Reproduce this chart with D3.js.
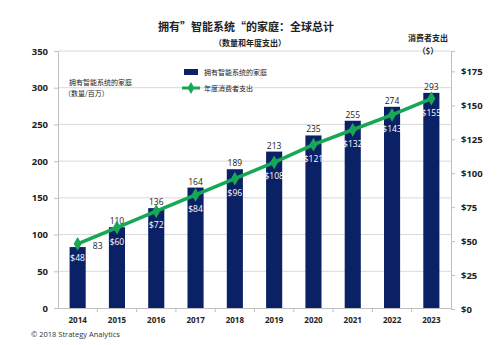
<!DOCTYPE html>
<html><head><meta charset="utf-8">
<script src="https://cdn.jsdelivr.net/npm/d3@7"></script>
<style>
body{margin:0;background:#fff;}
text{font-family:"Open Sans","Noto Sans CJK SC",sans-serif;}
.cjk{font-family:"Noto Sans CJK SC",sans-serif;}
</style></head>
<body><svg id="c" width="500" height="345"></svg>
<script>
const years = ["2014","2015","2016","2017","2018","2019","2020","2021","2022","2023"];
const households = [83,110,136,164,189,213,235,255,274,293];
const spending = [48,60,72,84,96,108,121,132,143,155];
const leftTicks = [0,50,100,150,200,250,300,350];
const rightTicks = [0,25,50,75,100,125,150,175];

const svg = d3.select("#c");
const L = 58, R = 451, T = 51, B = 308;
const navy = "#0b2166", green = "#17a855", grid = "#d9d9d9";

const x = d3.scaleBand().domain(years).range([L,R]).paddingInner(0.59).paddingOuter(0.295);
const xb = d3.scaleBand().domain(years).range([L,R]);
const yL = d3.scaleLinear().domain([0,350]).range([B,T]);
const yR = d3.scaleLinear().domain([0,190]).range([B+1,T]);

// gridlines
svg.append("g").selectAll("line").data(leftTicks.filter(d=>d>0)).join("line")
  .attr("x1",L).attr("x2",R).attr("y1",d=>yL(d)).attr("y2",d=>yL(d))
  .attr("stroke",grid).attr("stroke-width",1);

// left axis
const gl = svg.append("g").attr("transform",`translate(${L},0)`)
  .call(d3.axisLeft(yL).tickValues(leftTicks).tickSize(4).tickPadding(6));
gl.selectAll("path,line").attr("stroke","#bfbfbf");
gl.selectAll("text").attr("font-size",9.5).attr("font-weight","bold").attr("fill","#222");

// right axis
const gr = svg.append("g").attr("transform",`translate(${R},0)`)
  .call(d3.axisRight(yR).tickValues(rightTicks).tickSize(4).tickPadding(6).tickFormat(d=>"$"+d));
gr.selectAll("path,line").attr("stroke","#bfbfbf");
gr.selectAll("text").attr("font-size",9.5).attr("font-weight","bold").attr("fill","#222");

// bottom axis
const gb = svg.append("g").attr("transform",`translate(0,${B})`)
  .call(d3.axisBottom(xb).tickSize(0).tickPadding(9));
gb.select("path").attr("stroke","#bfbfbf");
gb.selectAll("text").attr("font-size",8).attr("font-weight","bold").attr("fill","#222");
svg.append("g").selectAll("line").data(years.slice(1)).join("line")
  .attr("x1",d=>xb(d)).attr("x2",d=>xb(d)).attr("y1",B).attr("y2",B+4).attr("stroke","#bfbfbf");

// bars
svg.append("g").selectAll("rect").data(years).join("rect")
  .attr("x",d=>x(d)).attr("width",x.bandwidth())
  .attr("y",(d,i)=>yL(households[i])).attr("height",(d,i)=>yL(0)-yL(households[i]))
  .attr("fill",navy);

// bar labels
svg.append("g").selectAll("text").data(years).join("text")
  .attr("x",(d,i)=> i===0 ? x(d)+x.bandwidth()+12 : x(d)+x.bandwidth()/2)
  .attr("y",(d,i)=> i===0 ? yL(households[i])+2 : yL(households[i])-3)
  .attr("text-anchor","middle").attr("font-size",8.5).attr("fill","#222")
  .text((d,i)=>households[i]);

// line
const cx = d=>xb(d)+xb.bandwidth()/2;
svg.append("path").datum(years)
  .attr("d",d3.line().x(d=>cx(d)).y((d,i)=>yR(spending[i])))
  .attr("fill","none").attr("stroke",green).attr("stroke-width",3.5);
const diamond = d3.symbol().type(d3.symbolDiamond).size(55);
svg.append("g").selectAll("path").data(years).join("path")
  .attr("d",diamond).attr("transform",(d,i)=>`translate(${cx(d)},${yR(spending[i])})`)
  .attr("fill",green);

// line labels
svg.append("g").selectAll("text").data(years).join("text")
  .attr("x",d=>cx(d)).attr("y",(d,i)=>yR(spending[i])+17)
  .attr("text-anchor","middle").attr("font-size",8.5).attr("fill","#fff")
  .text((d,i)=>"$"+spending[i]);

// titles
svg.append("text").attr("class","cjk").attr("x",246).attr("y",31).attr("text-anchor","middle")
  .attr("font-size",11).attr("font-weight","bold").attr("fill","#222").text("拥有”智能系统“的家庭：全球总计");
svg.append("text").attr("class","cjk").attr("x",250).attr("y",46).attr("text-anchor","middle")
  .attr("font-size",8).attr("font-weight","bold").attr("fill","#222").text("（数量和年度支出）");
svg.append("text").attr("class","cjk").attr("x",428).attr("y",41).attr("text-anchor","middle")
  .attr("font-size",8).attr("font-weight","bold").attr("fill","#222").text("消费者支出");
svg.append("text").attr("class","cjk").attr("x",428).attr("y",54).attr("text-anchor","middle")
  .attr("font-size",8).attr("font-weight","bold").attr("fill","#222").text("（$）");
svg.append("text").attr("class","cjk").attr("x",69).attr("y",85)
  .attr("font-size",7).attr("fill","#222").text("拥有智能系统的家庭");
svg.append("text").attr("class","cjk").attr("x",64).attr("y",96)
  .attr("font-size",7).attr("fill","#222").text("（数量/百万）");

// legend
svg.append("rect").attr("x",184).attr("y",69).attr("width",14).attr("height",6).attr("fill",navy);
svg.append("text").attr("class","cjk").attr("x",204).attr("y",75).attr("font-size",7).attr("fill","#222").text("拥有智能系统的家庭");
svg.append("line").attr("x1",182).attr("x2",200).attr("y1",88).attr("y2",88).attr("stroke",green).attr("stroke-width",3);
svg.append("path").attr("d",d3.symbol().type(d3.symbolDiamond).size(40)).attr("transform","translate(191,88)").attr("fill",green);
svg.append("text").attr("class","cjk").attr("x",204).attr("y",91).attr("font-size",7).attr("fill","#222").text("年度消费者支出");

// footer
svg.append("text").attr("x",31).attr("y",337).attr("font-size",7.5).attr("fill","#333").text("© 2018 Strategy Analytics");
</script></body></html>
